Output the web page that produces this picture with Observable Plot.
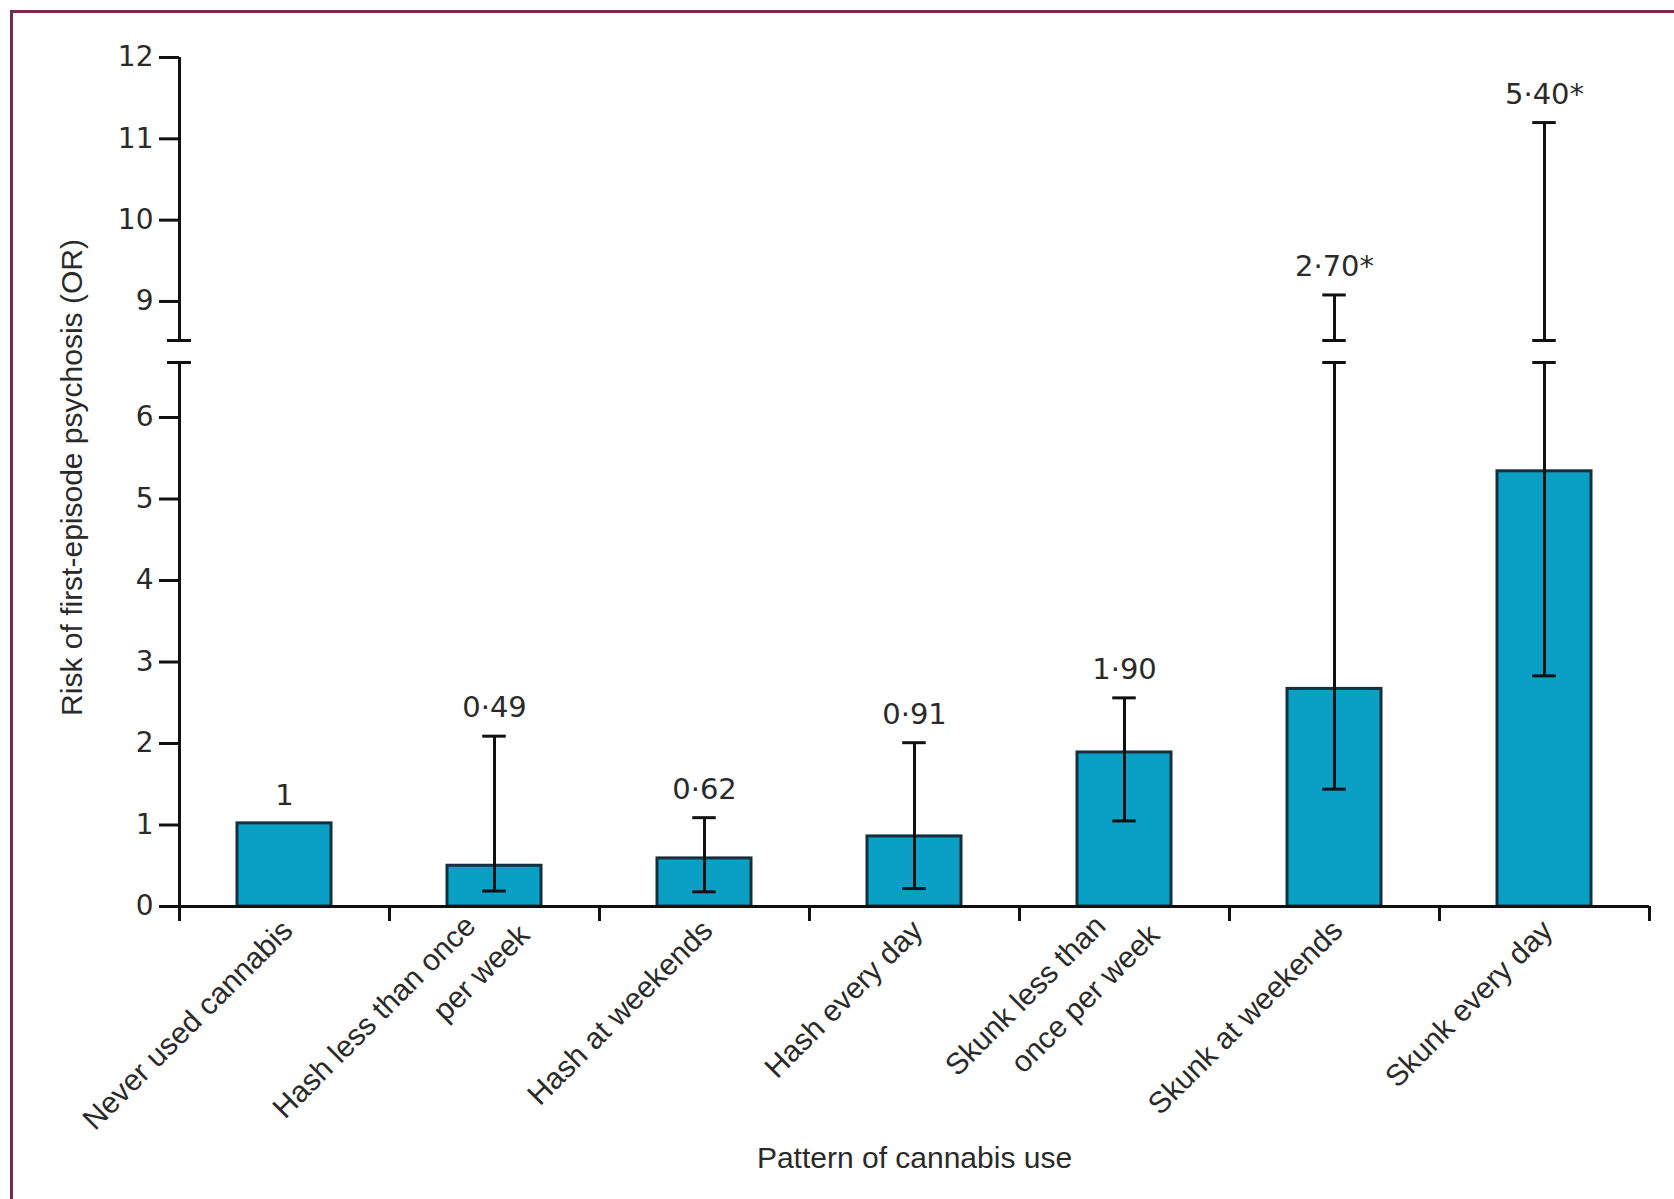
<!DOCTYPE html>
<html>
<head>
<meta charset="utf-8">
<script src="https://cdn.jsdelivr.net/npm/d3@7"></script>
<script src="https://cdn.jsdelivr.net/npm/@observablehq/plot@0.6"></script>
<style>
  html, body { margin: 0; padding: 0; background: #ffffff; }
  #fig { position: relative; width: 1674px; height: 1199px; overflow: hidden; background: #ffffff; }
  #fig .panel { position: absolute; left: 0; }
  #borderTop { position: absolute; left: 10px; top: 10px; width: 1664px; height: 3px; background: #7a2a4a; }
  #borderLeft { position: absolute; left: 10px; top: 10px; width: 3px; height: 1189px; background: #7a2a4a; }
  svg g[aria-label="y-axis"] .tick line,
  svg g[aria-label="y-axis tick"] path { stroke-width: 3px; stroke: #111111; }
</style>
</head>
<body>
<div id="fig">
  <div id="borderTop"></div>
  <div id="borderLeft"></div>
  <div id="upper" class="panel" style="top:0px"></div>
  <div id="lower" class="panel" style="top:350px"></div>
</div>
<script>
// ---- data ----
const categories = [
  "Never used cannabis",
  "Hash less than once\nper week",
  "Hash at weekends",
  "Hash every day",
  "Skunk less than\nonce per week",
  "Skunk at weekends",
  "Skunk every day"
];
const oddsRatios = [1.02, 0.50, 0.59, 0.86, 1.89, 2.67, 5.34];
const ciLow = [null, 0.19, 0.18, 0.22, 1.05, 1.44, 2.83];
const ciHigh = [null, 2.09, 1.09, 2.01, 2.56, 9.08, 11.2];
const valueLabels = ["1", "0·49", "0·62", "0·91", "1·90", "2·70*", "5·40*"];
const lowerTicks = [0, 1, 2, 3, 4, 5, 6];
const upperTicks = [9, 10, 11, 12];
const lowerDomain = [0, 6.675];
const upperDomain = [8.52, 12];
const xTitle = "Pattern of cannabis use";
const yTitle = "Risk of first-episode psychosis (OR)";

// ---- layout ----
const W = 1674, ML = 179, MR = 25;
const plotW = W - ML - MR;
const step = plotW / categories.length;
const padInner = 0.55;
const bandW = step * (1 - padInner);
const capHalf = 12;
const capInset = bandW / 2 - capHalf;
const ink = "#111111";
const textInk = "#2a2a2a";
const barFill = "#0aa0c6";
const barStroke = "#15303c";
const numFont = "'DejaVu Sans', 'Liberation Sans', sans-serif";
const wordFont = "'Liberation Sans', Arial, sans-serif";
const wordSize = 30;

const rows = categories.map((c, i) => ({
  cat: c, or: oddsRatios[i], lo: ciLow[i], hi: ciHigh[i], label: valueLabels[i],
  top: ciHigh[i] == null ? oddsRatios[i] : Math.max(oddsRatios[i], ciHigh[i])
}));
const ciRows = rows.filter(d => d.hi != null);
const upperCiRows = ciRows.filter(d => d.hi > upperDomain[0]);
const lowerLabelRows = rows.filter(d => d.top <= lowerDomain[1]);
const upperLabelRows = rows.filter(d => d.top > lowerDomain[1]);

// category label lines (two-line labels are split into separate rows)
const labelLines = categories.flatMap(c => c.split("\n").map((t, k, arr) => ({cat: c, text: t, k, n: arr.length})));
const singleLines = labelLines.filter(d => d.n === 1);
const firstLines = labelLines.filter(d => d.n > 1 && d.k === 0);
const secondLines = labelLines.filter(d => d.n > 1 && d.k === 1);
const tickText = {x: "cat", y: 0, text: "text", rotate: -45, textAnchor: "end", lineAnchor: "middle",
  fontSize: wordSize, fontFamily: wordFont, fill: textInk};

const xScale = {type: "band", domain: categories, paddingInner: padInner, paddingOuter: padInner / 2, axis: null};
const baseStyle = {fontFamily: numFont, fontSize: "28px", color: textInk, background: "transparent", overflow: "visible"};
const capOpts = {stroke: ink, strokeWidth: 3, insetLeft: capInset, insetRight: capInset};
const intFormat = d => String(d);

const upper = Plot.plot({
  width: W, height: 352,
  marginTop: 57, marginBottom: 12, marginLeft: ML, marginRight: MR,
  style: baseStyle,
  x: xScale,
  y: {domain: upperDomain, ticks: upperTicks, tickFormat: intFormat, tickSize: 20, tickPadding: 6, label: null},
  marks: [
    Plot.ruleX([categories[0]], {x: d => d, y1: upperDomain[0], y2: upperDomain[1], dx: -step / 2, stroke: ink, strokeWidth: 3}),
    Plot.ruleY([upperDomain[0]], {insetLeft: -capHalf, insetRight: plotW - capHalf, stroke: ink, strokeWidth: 3}),
    Plot.ruleX(upperCiRows, {x: "cat", y1: d => Math.max(d.lo, upperDomain[0]), y2: "hi", stroke: ink, strokeWidth: 3}),
    Plot.tickY(upperCiRows, {x: "cat", y: "hi", ...capOpts}),
    Plot.tickY(upperCiRows, {x: "cat", y: () => upperDomain[0], ...capOpts}),
    Plot.text(upperLabelRows, {x: "cat", y: "top", text: "label", dy: -28, fontSize: 29, fontFamily: numFont, fill: textInk})
  ]
});
document.getElementById("upper").appendChild(upper);

const lower = Plot.plot({
  width: W, height: 849,
  marginTop: 12, marginBottom: 293, marginLeft: ML, marginRight: MR,
  style: baseStyle,
  x: xScale,
  y: {domain: lowerDomain, ticks: lowerTicks, tickFormat: intFormat, tickSize: 20, tickPadding: 6, label: null},
  marks: [
    Plot.barY(rows, {x: "cat", y: "or", fill: barFill, stroke: barStroke, strokeWidth: 3}),
    Plot.ruleX(ciRows, {x: "cat", y1: "lo", y2: d => Math.min(d.hi, lowerDomain[1]), stroke: ink, strokeWidth: 3}),
    Plot.tickY(ciRows, {x: "cat", y: "lo", ...capOpts}),
    Plot.tickY(ciRows, {x: "cat", y: d => Math.min(d.hi, lowerDomain[1]), ...capOpts}),
    Plot.ruleY([0], {stroke: ink, strokeWidth: 3}),
    Plot.ruleX([categories[0]], {x: d => d, y1: lowerDomain[0], y2: lowerDomain[1], dx: -step / 2, stroke: ink, strokeWidth: 3}),
    Plot.ruleY([lowerDomain[1]], {insetLeft: -capHalf, insetRight: plotW - capHalf, stroke: ink, strokeWidth: 3}),
    Plot.ruleX(categories, {x: d => d, y1: 0, y2: 0, insetBottom: -15, dx: -step / 2, stroke: ink, strokeWidth: 3}),
    Plot.ruleX([categories[categories.length - 1]], {x: d => d, y1: 0, y2: 0, insetBottom: -15, dx: step / 2, stroke: ink, strokeWidth: 3}),
    Plot.text(lowerLabelRows, {x: "cat", y: "top", text: "label", dy: -28, fontSize: 29, fontFamily: numFont, fill: textInk}),
    Plot.text(singleLines, {...tickText, dx: 3, dy: 19}),
    Plot.text(firstLines, {...tickText, dx: -24, dy: 14.5}),
    Plot.text(secondLines, {...tickText, dx: 30, dy: 23.5}),
    Plot.text([xTitle], {frameAnchor: "bottom", text: d => d, dy: 252, lineAnchor: "middle", fontSize: wordSize, fontFamily: wordFont, fill: textInk}),
    Plot.text([yTitle], {frameAnchor: "top-left", text: d => d, dx: -107, dy: 115, rotate: -90, lineAnchor: "middle", textAnchor: "middle", fontSize: wordSize, fontFamily: wordFont, fill: textInk})
  ]
});
document.getElementById("lower").appendChild(lower);
</script>
</body>
</html>
